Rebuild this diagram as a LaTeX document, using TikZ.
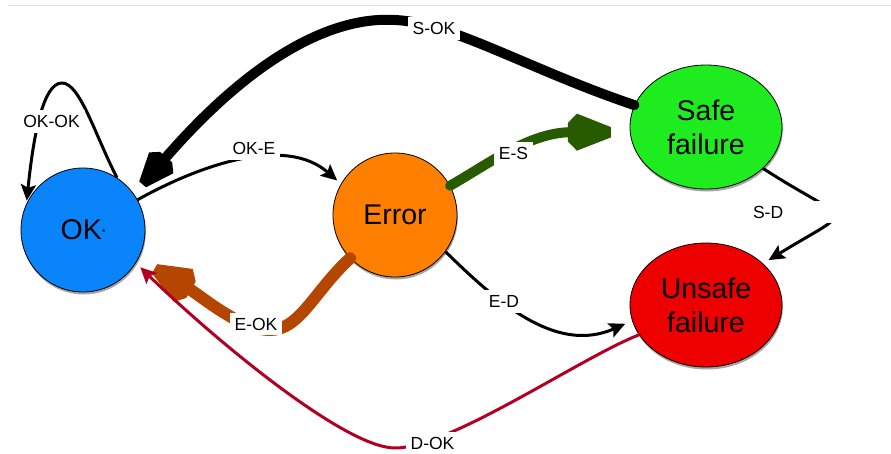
\documentclass[tikz,border=0pt]{standalone}
\usepackage{fontspec}
\setmainfont{Liberation Sans}
\usetikzlibrary{arrows.meta,shapes.geometric,shadows}
\definecolor{okblue}{RGB}{10,132,250}
\definecolor{errorange}{RGB}{255,128,0}
\definecolor{safegreen}{RGB}{30,236,30}
\definecolor{unsafered}{RGB}{238,0,0}
\definecolor{esgreen}{RGB}{40,90,0}
\definecolor{eokbrown}{RGB}{180,70,0}
\definecolor{dokred}{RGB}{178,0,36}
\definecolor{rulegray}{RGB}{222,222,222}

\pgfdeclarearrow{
  name = Blunt,
  defaults = {length = 40pt, width = 36pt},
  parameters = {\the\pgfarrowlength,\the\pgfarrowwidth},
  setup code = {
    \pgfarrowssettipend{0pt}
    \pgfarrowssetbackend{-\pgfarrowlength}
    \pgfarrowssetlineend{-.9\pgfarrowlength}
    \pgfarrowsupperhullpoint{0pt}{.14\pgfarrowwidth}
    \pgfarrowsupperhullpoint{-.79\pgfarrowlength}{.5\pgfarrowwidth}
    \pgfarrowsupperhullpoint{-\pgfarrowlength}{.25\pgfarrowwidth}
    \pgfarrowssavethe\pgfarrowlength
    \pgfarrowssavethe\pgfarrowwidth
  },
  drawing code = {
    \pgfpathmoveto{\pgfqpoint{0pt}{.14\pgfarrowwidth}}
    \pgfpathlineto{\pgfqpoint{-.79\pgfarrowlength}{.5\pgfarrowwidth}}
    \pgfpathlineto{\pgfqpoint{-\pgfarrowlength}{.25\pgfarrowwidth}}
    \pgfpathlineto{\pgfqpoint{-\pgfarrowlength}{-.25\pgfarrowwidth}}
    \pgfpathlineto{\pgfqpoint{-.79\pgfarrowlength}{-.5\pgfarrowwidth}}
    \pgfpathlineto{\pgfqpoint{0pt}{-.14\pgfarrowwidth}}
    \pgfpathclose
    \pgfusepathqfill
  }
}

\begin{document}
\begin{tikzpicture}[x=1pt,y=-1pt,
  state/.style={draw=black, line width=0.8pt, inner sep=0pt, align=center,
    font=\fontsize{28.5}{34}\selectfont,
    drop shadow={shadow xshift=0.8pt, shadow yshift=-2.5pt, fill=black, opacity=0.35}},
  roundstate/.style={state, circle, minimum size=124pt},
  ovalstate/.style={state, ellipse, minimum width=152pt, minimum height=124pt},
  lbl/.style={fill=white, inner xsep=5pt, inner ysep=5pt,
    font=\fontsize{17.5}{20}\selectfont},
  thinedge/.style={line width=3pt, -{Stealth[length=16pt,width=15pt,inset=3pt]}},
  fatedge/.style={line cap=round}
]
\useasboundingbox (0,0) rectangle (891,453);
\draw[rulegray, line width=1pt] (8,5) -- (891,5);

% states
\node[roundstate, fill=okblue] (ok) at (83,230) {OK\raisebox{4.5pt}{\fontsize{9}{9}\selectfont *}};
\node[roundstate, fill=errorange] (err) at (395,215) {Error};
\node[ovalstate, fill=safegreen] (safe) at (706,127) {Safe\\failure};
\node[ovalstate, fill=unsafered] (unsafe) at (706,305) {Unsafe\\failure};

% transitions
\draw[thinedge, shorten >=3pt] (ok.57) .. controls (95,135) and (80,83) .. (62,83)
  .. controls (44,83) and (34,130) .. (ok.155);
\draw[fatedge, line width=10pt, color=black, -{Blunt[length=36pt,width=32pt]}, shorten >=13pt]
  (safe.163) .. controls (530,70) and (450,22) .. (395,20)
  .. controls (330,16) and (250,60) .. (ok.35);
\draw[thinedge, shorten >=5pt] (ok.29) .. controls (200,165) and (285,135) .. (err.150);
\draw[fatedge, line width=10pt, color=esgreen, -{Blunt[length=43pt,width=37pt]}, shorten >=19pt]
  (err.28) .. controls (490,163) and (530,132) .. (safe.184);
\draw[fatedge, line width=12pt, color=eokbrown, -{Blunt[length=42pt,width=38pt]}, shorten >=19pt]
  (err.224) .. controls (315,290) and (300,330) .. (270,330)
  .. controls (240,330) and (200,295) .. (ok.332);
\draw[thinedge, color=dokred, shorten >=6pt]
  (unsafe.204) .. controls (580,358) and (450,448) .. (395,448)
  .. controls (345,448) and (215,340) .. (ok.328);
\draw[thinedge, shorten >=7.5pt] (err.324) .. controls (495,300) and (555,355) .. (unsafe.192);
\draw[thinedge, shorten >=6.5pt] (safe.324) .. controls (852,226) and (858,205) .. (unsafe.36);

% labels
\node[lbl] (lokok) at (51.5,121.5) {OK-OK\hspace{15pt}};
\node[lbl] (lsok) at (434,28.5) {S-OK};
\node[lbl] (loke) at (254,148.5) {OK-E\hspace{6pt}};
\node[lbl] (les) at (513.5,153.5) {E-S\hspace{6pt}};
\node[lbl] (leok) at (256,324) {E-OK\hspace{3pt}};
\node[lbl] (ldok) at (432.5,443.5) {D-OK};
\node[lbl] (led) at (504,301.5) {E-D};
\node[lbl] (lsd) at (792,212) {\makebox[78pt][l]{S-D}};
\end{tikzpicture}
\end{document}
